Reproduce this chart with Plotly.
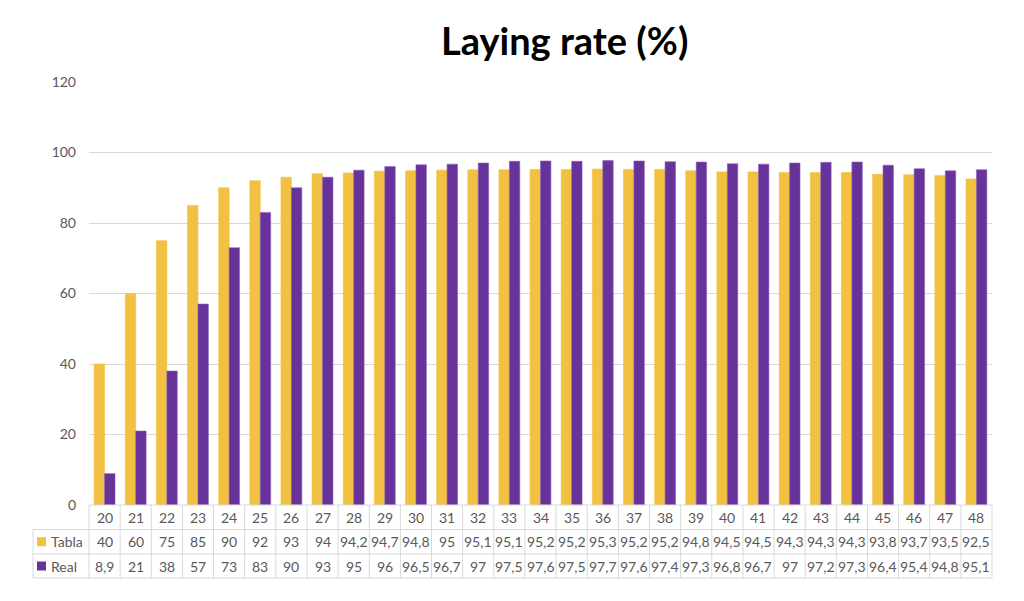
import plotly.graph_objects as go

weeks = [str(w) for w in range(20, 49)]
tabla = [40, 60, 75, 85, 90, 92, 93, 94, 94.2, 94.7, 94.8, 95, 95.1, 95.1, 95.2, 95.2, 95.3,
         95.2, 95.2, 94.8, 94.5, 94.5, 94.3, 94.3, 94.3, 93.8, 93.7, 93.5, 92.5]
real = [8.9, 21, 38, 57, 73, 83, 90, 93, 95, 96, 96.5, 96.7, 97, 97.5, 97.6, 97.5, 97.7,
        97.6, 97.4, 97.3, 96.8, 96.7, 97, 97.2, 97.3, 96.4, 95.4, 94.8, 95.1]
series_names = ["Tabla", "Real"]
colors = ["#F2C142", "#67339A"]
edge = ["#F2C142", "#8A63B5"]

FONT = "Lato"
GREY = "#595959"
LINE = "#D9D9D9"

def fmt(v):
    s = ("%g" % v)
    return s.replace(".", ",")

fig = go.Figure()
for name, vals, col, ec in zip(series_names, [tabla, real], colors, edge):
    fig.add_trace(go.Bar(x=weeks, y=vals, name=name,
                         marker=dict(color=col, line=dict(width=0.6, color=ec)),
                         showlegend=False))

W, H = 1024, 601
ml, mr, mt, mb = 89, 32, 82, 96
pw = W - ml - mr
ph = H - mt - mb

def px2py(ypx):
    return (H - mb - ypx) / ph

def px2px(xpx):
    return (xpx - ml) / pw

n = len(weeks)
rows_px = [505, 529.5, 554, 578]
label_left = px2px(33)

shapes = []
shapes.append(dict(type="line", xref="paper", yref="paper", x0=0, x1=1,
                   y0=px2py(rows_px[0]), y1=px2py(rows_px[0]), line=dict(color=LINE, width=1)))
for r in rows_px[1:]:
    shapes.append(dict(type="line", xref="paper", yref="paper", x0=label_left, x1=1,
                       y0=px2py(r), y1=px2py(r), line=dict(color=LINE, width=1)))
for k in range(n + 1):
    xp = k / n
    shapes.append(dict(type="line", xref="paper", yref="paper", x0=xp, x1=xp,
                       y0=px2py(rows_px[0]), y1=px2py(rows_px[3]), line=dict(color=LINE, width=1)))
shapes.append(dict(type="line", xref="paper", yref="paper", x0=label_left, x1=label_left,
                   y0=px2py(rows_px[1]), y1=px2py(rows_px[3]), line=dict(color=LINE, width=1)))

annotations = []
row_mid = [(rows_px[i] + rows_px[i + 1]) / 2 for i in range(3)]
cell_font = dict(family=FONT, size=14, color=GREY)
for i, w in enumerate(weeks):
    for r, txt in enumerate([w, fmt(tabla[i]), fmt(real[i])]):
        annotations.append(dict(x=i, xref="x", y=px2py(row_mid[r]), yref="paper", text=txt,
                                xanchor="center", yanchor="middle",
                                showarrow=False, font=cell_font))

for j, (name, col) in enumerate(zip(series_names, colors)):
    yc = px2py(row_mid[j + 1])
    sq = 9 / ph
    shapes.append(dict(type="rect", xref="paper", yref="paper",
                       x0=px2px(37), x1=px2px(46), y0=yc - sq / 2, y1=yc + sq / 2,
                       fillcolor=col, line=dict(width=0)))
    annotations.append(dict(x=px2px(49), xref="paper", y=yc, yref="paper", text=name,
                            xanchor="left", yanchor="middle", showarrow=False,
                            font=cell_font))

annotations.append(dict(x=px2px(564), xref="paper", y=px2py(40), yref="paper",
                        text="<b>Laying rate (%)</b>", showarrow=False,
                        xanchor="center", yanchor="middle",
                        font=dict(family=FONT, size=38, color="black")))

fig.update_layout(
    width=W, height=H,
    margin=dict(l=ml, r=mr, t=mt, b=mb),
    paper_bgcolor="white", plot_bgcolor="white",
    barmode="group", bargap=0.33, bargroupgap=0,
    xaxis=dict(type="category", showticklabels=False, showgrid=False, zeroline=False,
               showline=False, ticks="", range=[-0.5, n - 0.5]),
    yaxis=dict(range=[0, 120], dtick=20, tick0=0, showgrid=True, gridcolor=LINE, gridwidth=1,
               zeroline=False, showline=False, ticks="",
               tickfont=dict(family=FONT, size=14, color=GREY), ticklabelstandoff=12),
    shapes=shapes, annotations=annotations,
)

fig.write_html("out.html")
